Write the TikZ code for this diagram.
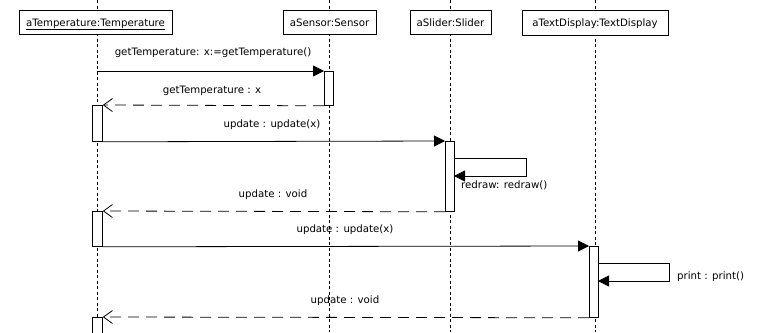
\documentclass[tikz,border=0pt]{standalone}
\usepackage{fontspec}
\setmainfont{DejaVu Sans}
\usetikzlibrary{arrows.meta}
\begin{document}
\begin{tikzpicture}[x=1pt,y=-1pt,
  font=\fontsize{10.2}{12}\selectfont,
  every node/.style={inner sep=0pt},
  obj/.style={draw,fill=white,line width=0.8pt,minimum height=24pt,text height=10pt,text depth=2pt},
  life/.style={line width=0.7pt,dash pattern=on 3pt off 2.5pt},
  act/.style={draw,fill=white,line width=0.8pt,minimum width=9pt,anchor=north west},
  call/.style={line width=0.8pt,-{Triangle[length=11pt,width=11pt]}},
  ret/.style={line width=0.8pt,dash pattern=on 11pt off 7pt,-{Straight Barb[length=9pt,width=13pt,line width=0.8pt]}},
  lbl/.style={anchor=base}]
\useasboundingbox (0,0) rectangle (757,332);

% lifelines
\coordinate (tTop) at (97,0);   \coordinate (tBot) at (97,332);
\coordinate (sTop) at (329,0);  \coordinate (sBot) at (329,332);
\coordinate (lTop) at (450,0);  \coordinate (lBot) at (450,332);
\coordinate (dTop) at (595,0);  \coordinate (dBot) at (595,332);
\draw[life] (tTop) -- (tBot);
\draw[life] (sTop) -- (sBot);
\draw[life] (lTop) -- (lBot);
\draw[life] (dTop) -- (dBot);

% object boxes
\node[obj,minimum width=153pt] (temp) at (95.5,22) {\underline{aTemperature:Temperature}};
\node[obj,minimum width=93pt] (sensor) at (329.5,22) {aSensor:Sensor};
\node[obj,minimum width=81pt] (slider) at (450.5,22.5) {aSlider:Slider};
\node[obj,minimum width=146pt,minimum height=25pt] (display) at (595,22.5) {aTextDisplay:TextDisplay};

% activation bars
\node[act,minimum height=34pt] (sAct) at (324,71) {};
\node[act,minimum height=36pt,minimum width=10pt] (tAct1) at (92,105) {};
\node[act,minimum height=70pt] (lAct) at (445,141) {};
\node[act,minimum height=35pt,minimum width=10pt] (tAct2) at (92,211) {};
\node[act,minimum height=71pt] (dAct) at (589,246) {};
\node[act,minimum height=30pt,minimum width=10pt] (tAct3) at (92,317) {};

% getTemperature
\coordinate (m1) at (97,71);
\draw[call] (m1) -- (sAct.north west);
\node[lbl] (l1) at (213,55) {getTemperature: x:=getTemperature()};
\draw[ret] (sAct.south west) -- (tAct1.north east);
\node[lbl] (l2) at (212,93) {getTemperature : x};

% update on the slider
\draw[call] (tAct1.south east) -- (lAct.north west);
\node[lbl] (l3) at (272,127) {update : update(x)};
\coordinate (r1) at (454,158); \coordinate (r2) at (526,158);
\coordinate (r3) at (526,176); \coordinate (r4) at (454,176);
\draw[call] (r1) -- (r2) -- (r3) -- (r4);
\node[anchor=base west] (l4) at (461,188) {redraw: redraw()};
\draw[ret] (lAct.south west) -- (tAct2.north east);
\node[lbl] (l5) at (273,197) {update : void};

% update on the text display
\draw[call] (tAct2.south east) -- (dAct.north west);
\node[lbl] (l6) at (345,232) {update : update(x)};
\coordinate (p1) at (598,263); \coordinate (p2) at (669,263);
\coordinate (p3) at (669,281); \coordinate (p4) at (598,281);
\draw[call] (p1) -- (p2) -- (p3) -- (p4);
\node[anchor=base west] (l7) at (677,279) {print : print()};
\draw[ret] (dAct.south west) -- (tAct3.north east);
\node[lbl] (l8) at (345,303) {update : void};
\end{tikzpicture}
\end{document}
